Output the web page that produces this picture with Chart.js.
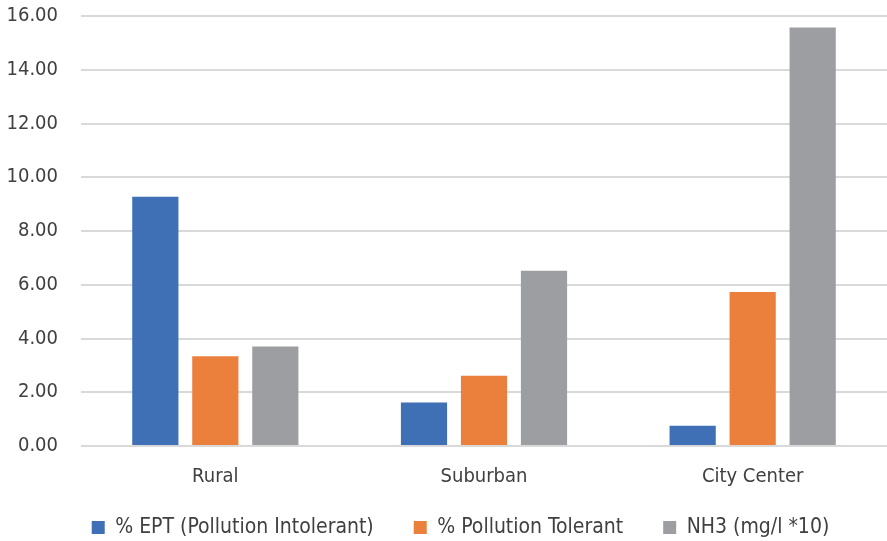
<!DOCTYPE html>
<html>
<head>
<meta charset="utf-8">
<script src="https://cdn.jsdelivr.net/npm/chart.js@4"></script>
<style>
  html, body { margin: 0; padding: 0; background: #fff; }
  #wrap { width: 887px; height: 541px; }
</style>
</head>
<body>
<div id="wrap"><canvas id="chart"></canvas></div>
<script>
// categories and series
const categories = ['Rural', 'Suburban', 'City Center'];
const eptValues = [9.27, 1.62, 0.75];
const tolerantValues = [3.34, 2.61, 5.73];
const nh3Values = [3.70, 6.52, 15.57];
const seriesNames = ['% EPT (Pollution Intolerant)', '% Pollution Tolerant', 'NH3 (mg/l *10)'];

const FONT = '"Liberation Sans Narrow", "DejaVu Sans Condensed", Lato, sans-serif';
const TEXT = '#404040';

Chart.defaults.font.family = FONT;
Chart.defaults.color = TEXT;

// legend padding is also the gap between items, so place the box by hand
const legendPlace = {
  id: 'legendPlace',
  afterLayout(chart) {
    chart.legend.top = 477;
    chart.legend.left += 34;
  }
};

new Chart(document.getElementById('chart'), {
  type: 'bar',
  data: {
    labels: categories,
    datasets: [
      { label: seriesNames[0], data: eptValues, backgroundColor: '#3F6FB5' },
      { label: seriesNames[1], data: tolerantValues, backgroundColor: '#EB7F3C' },
      { label: seriesNames[2], data: nh3Values, backgroundColor: '#9C9EA1' }
    ]
  },
  plugins: [legendPlace],
  options: {
    responsive: true,
    maintainAspectRatio: false,
    animation: false,
    datasets: { bar: { categoryPercentage: 0.67, barPercentage: 0.77 } },
    layout: { padding: 0 },
    plugins: {
      tooltip: { enabled: false },
      legend: {
        position: 'bottom',
        maxHeight: 33,
        labels: {
          boxWidth: 13, boxHeight: 13, padding: 40,
          font: { size: 21 }, color: TEXT
        }
      }
    },
    scales: {
      x: {
        grid: { display: false, drawTicks: false },
        border: { display: false },
        ticks: { font: { size: 20 }, color: TEXT, padding: 19 }
      },
      y: {
        min: 0, max: 16,
        afterFit: s => { s.width = 81; },
        border: { display: false },
        grid: { color: '#D9D9D9', lineWidth: 2, tickLength: 19, tickColor: 'transparent' },
        ticks: {
          stepSize: 2, padding: 4,
          font: { size: 20 }, color: TEXT,
          callback: v => v.toFixed(2)
        }
      }
    }
  }
});
</script>
</body>
</html>
